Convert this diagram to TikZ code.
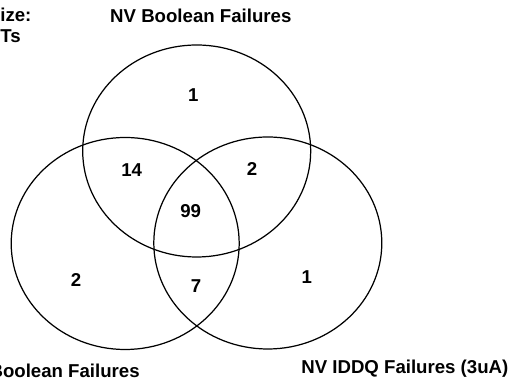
\documentclass[tikz,border=0pt]{standalone}
\usepackage{fontspec}
\setmainfont{Liberation Sans}
\usepackage{tikz}
\usetikzlibrary{positioning}

\begin{document}
\begin{tikzpicture}[
  ring/.style={draw=black, line width=0.7pt},
  num/.style={font=\fontsize{10.6}{13}\selectfont\bfseries, inner sep=0pt},
  title/.style={font=\fontsize{10.6}{13}\selectfont\bfseries, inner sep=0pt, align=left},
]
\useasboundingbox (0,0) rectangle (10.24,7.68);
% the three sets
\draw[ring] (3.934,4.66) ellipse [x radius=2.28, y radius=2.12];
\draw[ring] (2.504,2.81) ellipse [x radius=2.28, y radius=2.12];
\draw[ring] (5.356,2.82) ellipse [x radius=2.28, y radius=2.12];
% counts
\node[num] (nvb)  at (3.866,5.78) {1};
\node[num] (nvbs) at (2.634,4.27) {14};
\node[num] (nvbi) at (5.04,4.29)  {2};
\node[num] (all)  at (3.814,3.45) {99};
\node[num] (sb)   at (1.52,2.08)  {2};
\node[num] (sbi)  at (3.92,1.96)  {7};
\node[num] (iddq) at (6.134,2.13) {1};
% set names
\node[title] (tnvb)  at (4.016,7.36) {NV Boolean Failures};
\node[title, anchor=east] (tsb) at (2.8,0.26) {Boolean Failures};
\node[title, anchor=west] (tiddq) at (6.02,0.3) {NV IDDQ Failures (3uA)};
\node[title, anchor=north west] (size) at (0,7.53) {ize:\\[-1pt]Ts};
\end{tikzpicture}
\end{document}
